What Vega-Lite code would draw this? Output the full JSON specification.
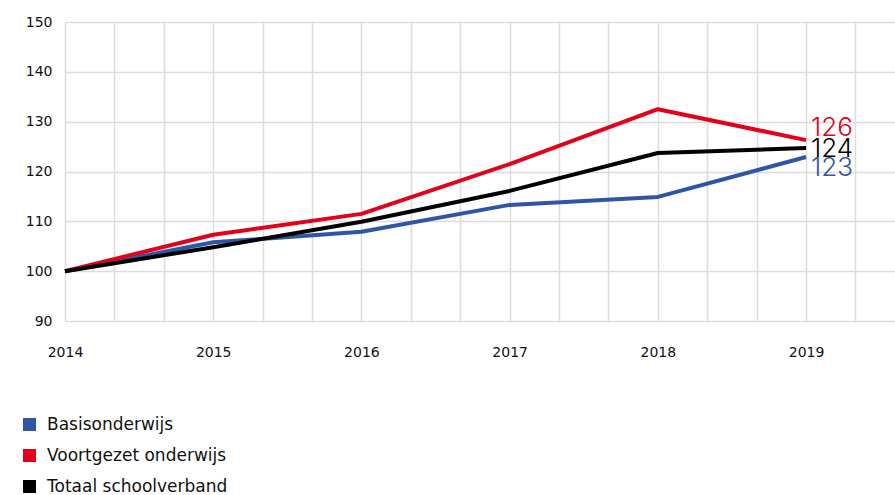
{
  "$schema": "https://vega.github.io/schema/vega-lite/v6.json",
  "autosize": "none",
  "width": 830,
  "height": 299,
  "padding": {"left": 65, "top": 22, "right": 0, "bottom": 174},
  "background": "white",
  "config": {
    "font": "Inter",
    "view": {"stroke": null},
    "axis": {"labelFont": "DejaVu Sans", "labelColor": "#111", "labelFontSize": 14, "gridColor": "#dcdcdc", "gridWidth": 1.5, "domain": false, "ticks": false, "title": null}
  },
  "data": {"values": [
    {"jaar": 2014, "waarde": 100, "reeks": "Basisonderwijs"},
    {"jaar": 2015, "waarde": 105.8, "reeks": "Basisonderwijs"},
    {"jaar": 2016, "waarde": 107.9, "reeks": "Basisonderwijs"},
    {"jaar": 2017, "waarde": 113.3, "reeks": "Basisonderwijs"},
    {"jaar": 2018, "waarde": 114.9, "reeks": "Basisonderwijs"},
    {"jaar": 2019, "waarde": 122.9, "reeks": "Basisonderwijs", "label": "123"},
    {"jaar": 2014, "waarde": 100, "reeks": "Voortgezet onderwijs"},
    {"jaar": 2015, "waarde": 107.3, "reeks": "Voortgezet onderwijs"},
    {"jaar": 2016, "waarde": 111.5, "reeks": "Voortgezet onderwijs"},
    {"jaar": 2017, "waarde": 121.5, "reeks": "Voortgezet onderwijs"},
    {"jaar": 2018, "waarde": 132.5, "reeks": "Voortgezet onderwijs"},
    {"jaar": 2019, "waarde": 126.3, "reeks": "Voortgezet onderwijs", "label": "126"},
    {"jaar": 2014, "waarde": 100, "reeks": "Totaal schoolverband"},
    {"jaar": 2015, "waarde": 104.8, "reeks": "Totaal schoolverband"},
    {"jaar": 2016, "waarde": 109.9, "reeks": "Totaal schoolverband"},
    {"jaar": 2017, "waarde": 116.1, "reeks": "Totaal schoolverband"},
    {"jaar": 2018, "waarde": 123.7, "reeks": "Totaal schoolverband"},
    {"jaar": 2019, "waarde": 124.7, "reeks": "Totaal schoolverband", "label": "124"}
  ]},
  "encoding": {
    "x": {"field": "jaar", "type": "quantitative",
      "scale": {"domain": [2014, 2019.6], "nice": false, "zero": false},
      "axis": {"values": [2014, 2014.3333, 2014.6667, 2015, 2015.3333, 2015.6667, 2016, 2016.3333, 2016.6667, 2017, 2017.3333, 2017.6667, 2018, 2018.3333, 2018.6667, 2019, 2019.3333],
        "labelExpr": "abs(datum.value - round(datum.value)) < 0.01 ? format(round(datum.value), 'd') : ''",
        "labelPadding": 24, "labelBound": false, "labelOverlap": false, "labelFlush": false}},
    "y": {"field": "waarde", "type": "quantitative",
      "scale": {"domain": [90, 150], "nice": false, "zero": false},
      "axis": {"values": [90, 100, 110, 120, 130, 140, 150], "labelPadding": 13}}
  },
  "layer": [
    {
      "mark": {"type": "line", "strokeWidth": 4, "strokeJoin": "round"},
      "encoding": {
        "color": {"field": "reeks", "type": "nominal",
          "scale": {"domain": ["Basisonderwijs", "Voortgezet onderwijs", "Totaal schoolverband"], "range": ["#2f56a6", "#e2001a", "#000000"]},
          "sort": ["Basisonderwijs", "Voortgezet onderwijs", "Totaal schoolverband"],
          "legend": {"orient": "none", "legendX": -44, "legendY": 394, "title": null, "symbolType": "square", "symbolSize": 169, "labelFontSize": 17, "labelFont": "DejaVu Sans", "labelColor": "#111", "labelLimit": 400, "rowPadding": 13, "labelOffset": 9,
            "encode": {"symbols": {"update": {"fill": {"scale": "color", "field": "value"}, "strokeWidth": {"value": 0}}}}}}
      }
    },
    {
      "transform": [{"filter": "datum.reeks == 'Voortgezet onderwijs' && datum.label"}],
      "mark": {"type": "text", "align": "left", "baseline": "middle", "dx": 5, "dy": -12, "fontSize": 26, "fontWeight": 300, "color": "#e2001a"},
      "encoding": {"text": {"field": "label"}}
    },
    {
      "transform": [{"filter": "datum.reeks == 'Totaal schoolverband' && datum.label"}],
      "mark": {"type": "text", "align": "left", "baseline": "middle", "dx": 5, "dy": 1, "fontSize": 26, "fontWeight": 300, "color": "#000000"},
      "encoding": {"text": {"field": "label"}}
    },
    {
      "transform": [{"filter": "datum.reeks == 'Basisonderwijs' && datum.label"}],
      "mark": {"type": "text", "align": "left", "baseline": "middle", "dx": 5, "dy": 11, "fontSize": 26, "fontWeight": 300, "color": "#2f56a6"},
      "encoding": {"text": {"field": "label"}}
    }
  ]
}
